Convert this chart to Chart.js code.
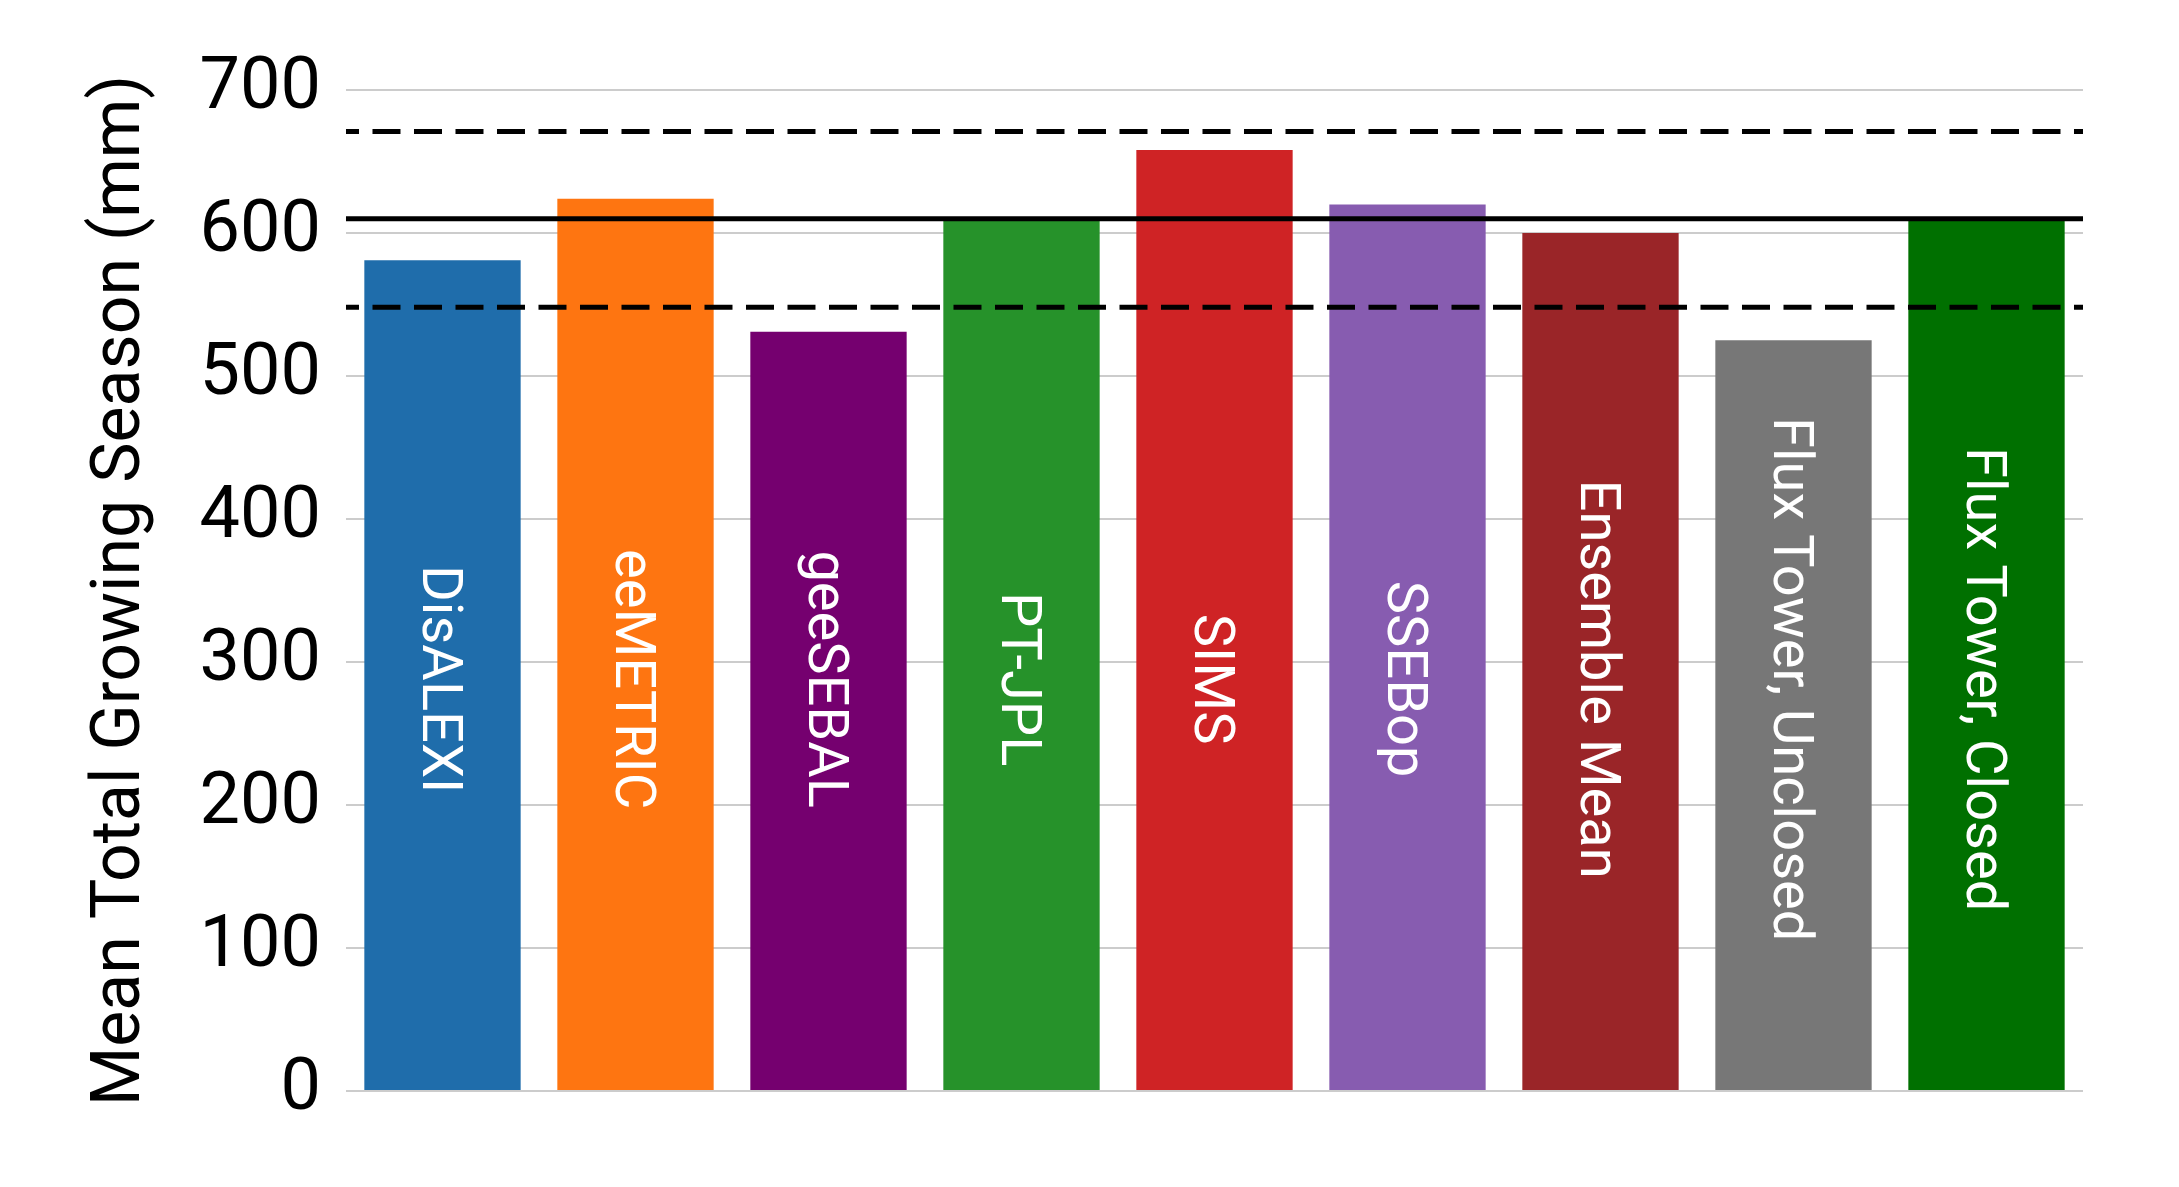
<!DOCTYPE html>
<html>
<head>
<meta charset="utf-8">
<title>Mean Total Growing Season ET</title>
<script src="https://cdn.jsdelivr.net/npm/chart.js@4.4.1/dist/chart.umd.min.js"></script>
<style>
  html, body { margin: 0; padding: 0; background: #ffffff; }
  #wrap { width: 2179px; height: 1187px; }
</style>
</head>
<body>
<div id="wrap"><canvas id="et-chart" width="2179" height="1187"></canvas></div>
<script>
// Data
const models = ["DisALEXI", "eeMETRIC", "geeSEBAL", "PT-JPL", "SIMS", "SSEBop", "Ensemble Mean", "Flux Tower, Unclosed", "Flux Tower, Closed"];
const seasonTotals = [581, 624, 531, 610, 658, 620, 600, 525, 610];
const barColors = ["#1f6dab", "#fe7511", "#75006f", "#26922a", "#cf2325", "#875cb0", "#9a2528", "#777777", "#007000"];
const yTicks = [0, 100, 200, 300, 400, 500, 600, 700];

// reference lines (flux tower closed mean and its band)
const towerMean = 610;
const towerUpper = 671;
const towerLower = 548;
const labelCentre = 288; // value where the rotated bar names are centred

// draws the horizontal reference lines and the names inside the bars
const overlayPlugin = {
  id: "overlay",
  afterDatasetsDraw(chart) {
    const ctx = chart.ctx;
    const area = chart.chartArea;
    const y = chart.scales.y;

    function hline(value, dash) {
      const py = y.getPixelForValue(value);
      ctx.save();
      ctx.strokeStyle = "#000000";
      ctx.lineWidth = 5;
      ctx.setLineDash(dash);
      ctx.lineDashOffset = dash.length ? 15 : 0;
      ctx.beginPath();
      ctx.moveTo(area.left, py);
      ctx.lineTo(area.right, py);
      ctx.stroke();
      ctx.restore();
    }
    hline(towerUpper, [28, 13.5]);
    hline(towerMean, []);
    hline(towerLower, [28, 13.5]);

    // bar names, rotated to read top to bottom
    const meta = chart.getDatasetMeta(0);
    const size = 56;
    ctx.save();
    ctx.fillStyle = "#ffffff";
    ctx.font = "400 " + size + "px Roboto";
    ctx.textAlign = "center";
    ctx.textBaseline = "alphabetic";
    meta.data.forEach(function (bar, i) {
      ctx.save();
      ctx.translate(bar.x, y.getPixelForValue(labelCentre));
      ctx.rotate(Math.PI / 2);
      ctx.fillText(models[i], 0, size * 0.711 / 2);
      ctx.restore();
    });
    ctx.restore();
  }
};

const ctx = document.getElementById("et-chart").getContext("2d");
const chart = new Chart(ctx, {
  type: "bar",
  data: {
    labels: models,
    datasets: [{
      data: seasonTotals,
      backgroundColor: barColors,
      borderWidth: 0,
      barPercentage: 0.81,
      categoryPercentage: 1.0
    }]
  },
  options: {
    responsive: false,
    devicePixelRatio: 1,
    animation: false,
    layout: {
      padding: { left: 81, top: 90, right: 96, bottom: 96 }
    },
    plugins: {
      legend: { display: false },
      tooltip: { enabled: false }
    },
    scales: {
      x: {
        display: false
      },
      y: {
        min: 0,
        max: 700,
        afterBuildTicks: function (axis) {
          axis.ticks = yTicks.map(function (v) { return { value: v }; });
        },
        ticks: {
          color: "#000000",
          padding: 25,
          font: { family: "Roboto", size: 72 }
        },
        grid: {
          color: "#cccccc",
          lineWidth: 2,
          drawTicks: false
        },
        border: { display: false },
        title: {
          display: true,
          text: "Mean Total Growing Season (mm)",
          color: "#000000",
          font: { family: "Roboto", size: 68 },
          padding: { top: 0, bottom: 12 }
        }
      }
    }
  },
  plugins: [overlayPlugin]
});
</script>
</body>
</html>
